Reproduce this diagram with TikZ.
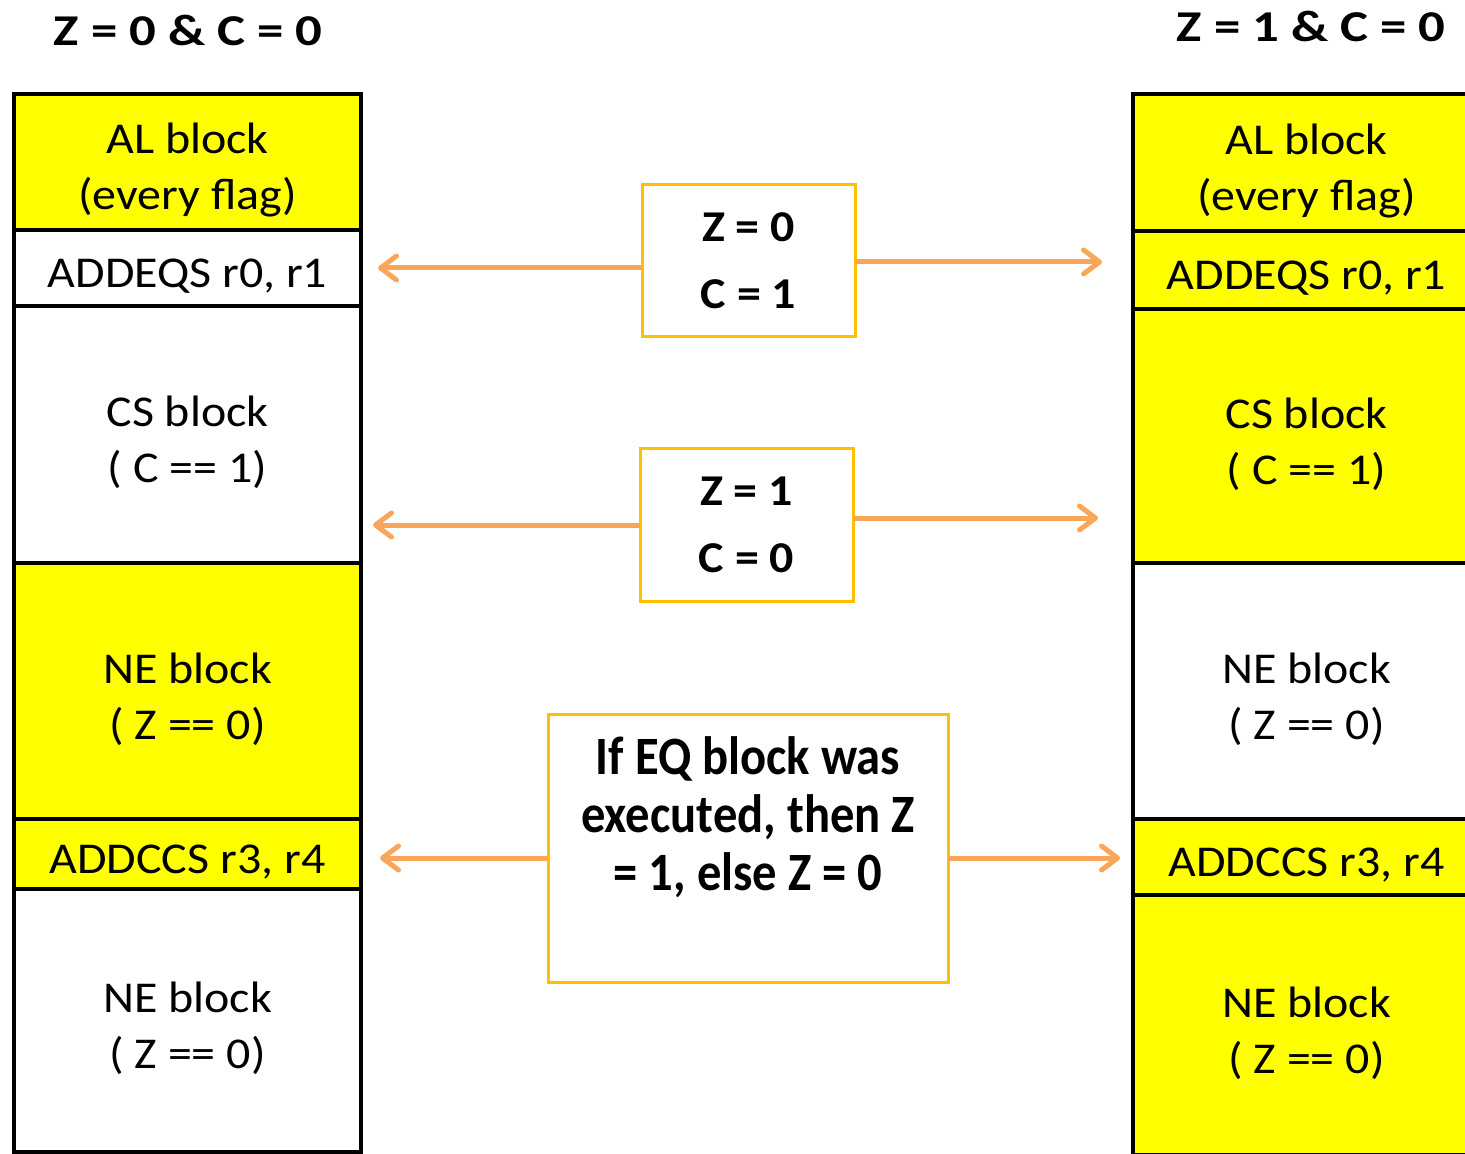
\documentclass[tikz,border=0pt]{standalone}
\usepackage{fontspec}
\setmainfont[FakeStretch=1.09]{Carlito}
\newfontfamily\titlefont[FakeStretch=1.2]{Carlito}
\newfontfamily\notefont[FakeStretch=0.9]{Carlito}
\usetikzlibrary{positioning,arrows.meta}
\definecolor{blockyellow}{RGB}{255,255,0}
\definecolor{flaggold}{RGB}{255,192,0}
\definecolor{flagorange}{RGB}{248,166,90}
\tikzset{
block/.style = {draw, line width=2.25pt, rectangle, outer sep=0pt, inner sep=0pt, minimum width=173.5pt, align=center, font=\fontsize{22}{28}\selectfont},
oneline/.style = {execute at begin node={\rule{0pt}{22pt}}},
twoline/.style = {execute at begin node={\rule{0pt}{51.5pt}}},
hot/.style = {block, fill=blockyellow},
cold/.style = {block, fill=white},
flagbox/.style = {draw=flaggold, line width=1.5pt, rectangle, fill=white, outer sep=0pt, inner sep=0pt, align=center, font=\bfseries\fontsize{22}{33.5}\selectfont},
title/.style = {font=\titlefont\bfseries\fontsize{22}{26}\selectfont},
flow/.style = {draw=flagorange, line width=2.5pt, -{Straight Barb[length=8pt,width=12pt,round]}}
}

\begin{document}
\begin{tikzpicture}[x=0.5pt, y=-0.5pt, node distance=0pt]
  \useasboundingbox (0,0) rectangle (1465,1154);
  \clip (0,0) rectangle (1465,1154);

  \node [title]                                                  (ttl)    at (188,30)    {Z = 0 \& C = 0};
  \node [title]                                                  (ttr)    at (1311,26)   {Z = 1 \& C = 0};

  % left column
  \node [hot, twoline, minimum height=68pt, anchor=north]        (al)     at (187.5,94)  {AL block\\(every flag)};
  \node [cold, oneline, minimum height=38pt, below=of al]        (addeq)  {ADDEQS r0, r1};
  \node [cold, twoline, minimum height=128.5pt, below=of addeq]  (cs)     {CS block\\( C == 1)};
  \node [hot, twoline, minimum height=128pt, below=of cs]        (ne)     {NE block\\( Z == 0)};
  \node [hot, oneline, minimum height=35pt, below=of ne]         (addcc)  {ADDCCS r3, r4};
  \node [cold, twoline, minimum height=131.5pt, below=of addcc]  (ne2)    {NE block\\( Z == 0)};

  % right column
  \node [hot, twoline, minimum height=68.5pt, anchor=north]      (ral)    at (1306.5,94) {AL block\\(every flag)};
  \node [hot, oneline, minimum height=39pt, below=of ral]        (raddeq) {ADDEQS r0, r1};
  \node [hot, twoline, minimum height=127pt, below=of raddeq]    (rcs)    {CS block\\( C == 1)};
  \node [cold, twoline, minimum height=128pt, below=of rcs]      (rne)    {NE block\\( Z == 0)};
  \node [hot, oneline, minimum height=38pt, below=of rne]        (raddcc) {ADDCCS r3, r4};
  \node [hot, twoline, minimum height=130pt, below=of raddcc]    (rne2)   {NE block\\( Z == 0)};

  % flag boxes
  \node [flagbox, minimum width=106.5pt, minimum height=76pt] (zc1) at (748.5,261) {Z = 0\\C = 1};
  \node [flagbox, minimum width=106.5pt, minimum height=76pt] (zc2) at (746.5,525) {Z = 1\\C = 0};
  \node [flagbox, minimum width=200pt, minimum height=134pt]  (eq)  at (748,848)   {};
  \node [font=\notefont\bfseries\fontsize{27}{29}\selectfont, align=center, inner sep=0pt, anchor=north] (eqtxt) at (748,736)
        {If EQ block was\\executed, then Z\\= 1, else Z = 0};

  \coordinate (l1) at (378,268);
  \coordinate (r1) at (1102,262);
  \coordinate (l2) at (373,525);
  \coordinate (r2) at (1098,518);
  \coordinate (l3) at (380,858);
  \coordinate (r3) at (1120,858);

  \draw [flow] (zc1.west |- l1) -- (l1);
  \draw [flow] (zc1.east |- r1) -- (r1);
  \draw [flow] (zc2.west |- l2) -- (l2);
  \draw [flow] (zc2.east |- r2) -- (r2);
  \draw [flow] (eq.west |- l3) -- (l3);
  \draw [flow] (eq.east |- r3) -- (r3);
\end{tikzpicture}
\end{document}
